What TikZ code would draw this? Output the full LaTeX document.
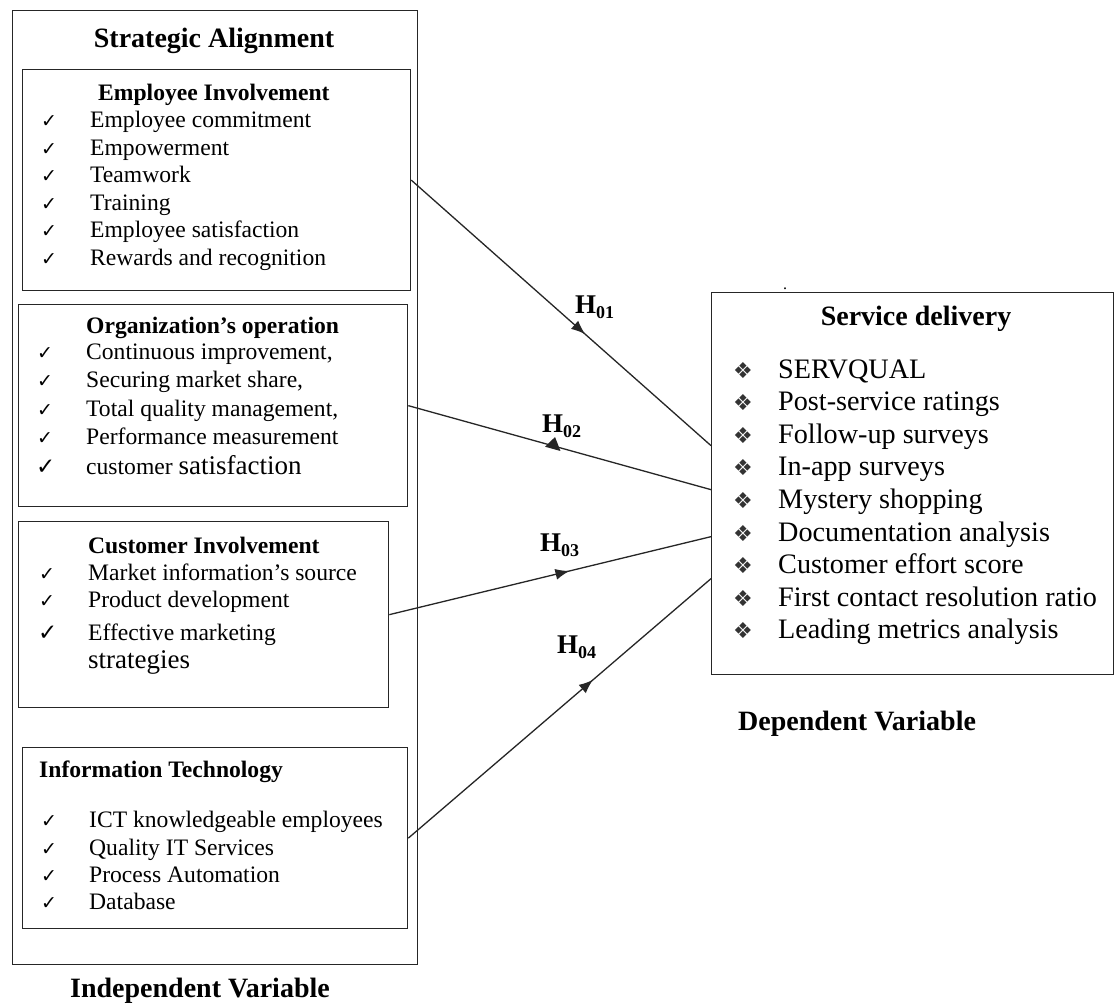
\documentclass[tikz,border=0pt]{standalone}
\usepackage{fontspec}
\setmainfont{Liberation Serif}
\newfontfamily\symf{DejaVu Sans}
\usetikzlibrary{decorations.markings,arrows.meta,calc}
\begin{document}
\begin{tikzpicture}[x=1pt,y=-1pt,
  box/.style={draw=black!85, line width=1.3pt, anchor=north west, inner sep=0pt},
  itm/.style={inner sep=0pt, anchor=base west, font=\fontsize{23.6}{27}\selectfont},
  sitm/.style={inner sep=0pt, anchor=base west, font=\fontsize{28.2}{32}\selectfont},
  hdr/.style={inner sep=0pt, anchor=base west, font=\bfseries\fontsize{23.6}{27}\selectfont},
  ttl/.style={inner sep=0pt, anchor=base, font=\bfseries\fontsize{28}{32}\selectfont},
  chkm/.style={inner sep=0pt, anchor=base west, font=\symf\fontsize{19}{19}\selectfont},
  bchkm/.style={inner sep=0pt, anchor=base west, font=\symf\fontsize{23}{23}\selectfont},
  diam/.style={inner sep=0pt, anchor=base west, text=black!80, font=\symf\fontsize{22}{22}\selectfont},
  hlab/.style={inner sep=0pt, anchor=base west, font=\bfseries\fontsize{27}{30}\selectfont},
  conn/.style={line width=1.3pt, black!85}
]
\fill[white] (0,0) rectangle (1114,1004);
\useasboundingbox (0,0) rectangle (1114,1004);

% boxes
\node[box, minimum width=405pt, minimum height=954pt] (outer) at (12,10) {};
\node[box, minimum width=388pt, minimum height=221pt] (b1) at (22,69) {};
\node[box, minimum width=389pt, minimum height=202pt] (b2) at (18,304) {};
\node[box, minimum width=370pt, minimum height=186pt] (b3) at (18,521) {};
\node[box, minimum width=385pt, minimum height=181pt] (b4) at (22,747) {};
\node[box, minimum width=402pt, minimum height=382pt] (sd) at (711,292) {};

% titles
\node[ttl] (tsa) at (214,47) {Strategic Alignment};
\node[ttl] (tiv) at (200,997) {Independent Variable};
\node[ttl, anchor=base west] (tdv) at (738,730) {Dependent Variable};
\node[ttl] (tsd) at (916,325) {Service delivery};
\node[inner sep=0pt, anchor=base, font=\fontsize{16}{16}\selectfont] (dot) at (785,289) {.};

% box 1
\node[hdr] (h1t) at (98,100) {Employee Involvement};
\foreach \t [count=\i] in {Employee commitment, Empowerment, Teamwork, Training, Employee satisfaction, Rewards and recognition}{
  \node[chkm] (c1\i) at (41,{127.5+27.5*(\i-1)}) {✓};
  \node[itm] (e1\i) at (90,{127.5+27.5*(\i-1)}) {\t};
}

% box 2
\node[hdr] (h2t) at (86,333) {Organization’s operation};
\foreach \t [count=\i] in {{Continuous improvement,}, {Securing market share,}, {Total quality management,}, Performance measurement}{
  \node[chkm] (c2\i) at (37,{359+28.5*(\i-1)}) {✓};
  \node[itm] (e2\i) at (86,{359+28.5*(\i-1)}) {\t};
}
\node[bchkm] (c25) at (36,474) {✓};
\node[itm] (e25) at (86,474) {customer {\fontsize{27}{30}\selectfont satisfaction}};

% box 3
\node[hdr] (h3t) at (88,553) {Customer Involvement};
\node[chkm] (c31) at (39,580) {✓};
\node[itm] (e31) at (88,580) {Market information’s source};
\node[chkm] (c32) at (39,607) {✓};
\node[itm] (e32) at (88,607) {Product development};
\node[bchkm] (c33) at (38,640) {✓};
\node[itm] (e33) at (88,640) {Effective marketing};
\node[itm, font=\fontsize{27}{30}\selectfont] (e34) at (88,668) {strategies};

% box 4
\node[hdr] (h4t) at (39,777) {Information Technology};
\foreach \t/\y [count=\i] in {ICT knowledgeable employees/827, Quality IT Services/855, Process Automation/882, Database/909}{
  \node[chkm] (c4\i) at (41,\y) {✓};
  \node[itm] (e4\i) at (89,\y) {\t};
}

% service delivery
\foreach \t [count=\i] in {SERVQUAL, Post-service ratings, Follow-up surveys, In-app surveys, Mystery shopping, Documentation analysis, Customer effort score, First contact resolution ratio, Leading metrics analysis}{
  \node[diam] (d\i) at (733,{378+32.6*(\i-1)}) {❖};
  \node[sitm] (s\i) at (778,{378+32.6*(\i-1)}) {\t};
}

% connectors
\draw[conn, postaction={decorate}, decoration={markings, mark=at position 0.58 with {\arrow{Latex[length=14pt,width=11pt]}}}]
  (b1.east) -- ($(sd.west)+(0,-38)$);
\draw[conn, postaction={decorate}, decoration={markings, mark=at position 0.48 with {\fill (-8pt,-3pt) -- (8pt,-3pt) -- (-1pt,9pt) -- cycle;}}]
  (b2.east) -- ($(sd.west)+(0,6)$);
\draw[conn, postaction={decorate}, decoration={markings, mark=at position 0.56 with {\arrow{Latex[length=14pt,width=11pt]}}}]
  (b3.east) -- ($(sd.west)+(0,53)$);
\draw[conn, postaction={decorate}, decoration={markings, mark=at position 0.61 with {\arrow{Latex[length=14pt,width=11pt]}}}]
  (b4.east) -- ($(sd.west)+(0,95)$);

% hypothesis labels
\node[hlab] (l1) at (575,313) {H\raisebox{-5pt}{\fontsize{18}{18}\selectfont 01}};
\node[hlab] (l2) at (542,432) {H\raisebox{-5pt}{\fontsize{18}{18}\selectfont 02}};
\node[hlab] (l3) at (540,551) {H\raisebox{-5pt}{\fontsize{18}{18}\selectfont 03}};
\node[hlab] (l4) at (557,653) {H\raisebox{-5pt}{\fontsize{18}{18}\selectfont 04}};
\end{tikzpicture}
\end{document}
